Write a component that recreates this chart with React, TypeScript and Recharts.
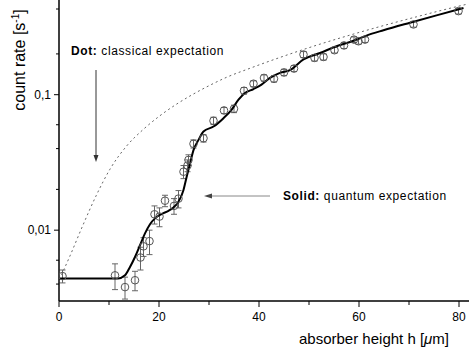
import React from 'react';
import { ComposedChart, Line, Scatter, ErrorBar, XAxis, YAxis } from 'recharts';

// measured points (absorber height in um, count rate in 1/s, error)
const pointX = [0.7, 11.2, 13.2, 15.2, 16.3, 16.9, 18.1, 19.1, 20.1, 21.2, 23.0, 23.9, 24.9, 25.7, 25.9, 26.9, 28.9, 30.9, 33.0, 35.0, 37.0, 38.9, 41.0, 43.0, 45.0, 47.0, 48.9, 51.1, 52.9, 55.1, 57.0, 59.0, 59.9, 61.2, 70.9, 79.9];
const pointY = [0.00458, 0.00464, 0.0038, 0.00427, 0.00628, 0.0076, 0.0083, 0.0131, 0.0126, 0.0165, 0.0151, 0.0171, 0.027, 0.03, 0.033, 0.0434, 0.0477, 0.0642, 0.0765, 0.0787, 0.107, 0.1205, 0.133, 0.131, 0.146, 0.156, 0.198, 0.187, 0.19, 0.213, 0.231, 0.255, 0.248, 0.255, 0.33, 0.414];
const pointErr = [0.0005, 0.001, 0.0007, 0.0007, 0.0012, 0.0012, 0.0017, 0.002, 0.002, 0.0016, 0.002, 0.0025, 0.003, 0.003, 0.003, 0.003, 0.003, 0.004, 0.004, 0.005, 0.006, 0.006, 0.007, 0.007, 0.008, 0.008, 0.01, 0.01, 0.01, 0.01, 0.012, 0.012, 0.012, 0.012, 0.015, 0.02];

// solid: quantum expectation
const quantumX = [0, 11.8, 13.2, 14.2, 15.2, 16.2, 17.2, 18.2, 19.2, 20.5, 21.9, 22.9, 23.9, 24.9, 25.5, 26.2, 26.9, 27.9, 28.9, 30.9, 32.9, 34.5, 35.9, 37.2, 38.9, 40.5, 42.2, 44.2, 46.2, 48.9, 52.2, 55.5, 58.9, 61.5, 64.9, 70.2, 75.5, 80.9];
const quantumY = [0.0044, 0.0044, 0.00464, 0.00535, 0.00634, 0.00774, 0.00946, 0.01106, 0.01222, 0.01315, 0.0139, 0.01472, 0.0162, 0.0198, 0.0245, 0.031, 0.039, 0.0464, 0.0535, 0.0582, 0.0671, 0.0774, 0.0918, 0.1028, 0.11, 0.1186, 0.133, 0.145, 0.152, 0.182, 0.203, 0.228, 0.25, 0.273, 0.299, 0.34, 0.385, 0.436];

// dotted: classical expectation
const classicalX = [0.5, 2.2, 4.7, 7.5, 10.2, 13.5, 16.9, 20.2, 23.5, 26.9, 30.2, 33.5, 38.2, 44.9, 51.5, 58.2, 64.9, 71.5, 78.2, 81.5];
const classicalY = [0.00468, 0.00646, 0.0107, 0.0182, 0.0282, 0.0417, 0.0556, 0.07, 0.0851, 0.1012, 0.1175, 0.1343, 0.1567, 0.1923, 0.2317, 0.2754, 0.3236, 0.3758, 0.4345, 0.4645];

const xTicks = [0, 10, 20, 30, 40, 50, 60, 70, 80];
const xLabels = [0, 20, 40, 60, 80];
const yTicks = [0.003, 0.004, 0.005, 0.006, 0.007, 0.008, 0.009, 0.01, 0.02, 0.03, 0.04, 0.05, 0.06, 0.07, 0.08, 0.09, 0.1, 0.2, 0.3, 0.4, 0.5];
const yLabels: Record<string, string> = { '0.01': '0,01', '0.1': '0,1' };

const points = pointX.map((x, i) => ({ x, y: pointY[i], err: pointErr[i] }));
const quantum = quantumX.map((x, i) => ({ x, y: quantumY[i] }));
const classical = classicalX.map((x, i) => ({ x, y: classicalY[i] }));

const font = 'Liberation Sans, Arial, sans-serif';

const XTick = (props: any) => {
  const { x, y, payload } = props;
  const major = xLabels.includes(payload.value);
  return (
    <g>
      <line x1={x} x2={x} y1={y} y2={y + (major ? 6 : 4)} stroke="#000" strokeWidth={1} />
      {major && (
        <text x={x} y={y + 20} textAnchor="middle" fontSize={12} fontFamily={font} fill="#000">
          {payload.value}
        </text>
      )}
    </g>
  );
};

const YTick = (props: any) => {
  const { x, y, payload } = props;
  const label = yLabels[String(payload.value)];
  return (
    <g>
      <line x1={x - (label ? 5 : 3)} x2={x} y1={y} y2={y} stroke="#000" strokeWidth={1} />
      {label && (
        <text x={x - 8} y={y + 4} textAnchor="end" fontSize={12} fontFamily={font} fill="#000">
          {label}
        </text>
      )}
    </g>
  );
};

const Ring = (props: any) => (
  <circle cx={props.cx} cy={props.cy} r={3.8} fill="none" stroke="#555" strokeWidth={1} />
);

export default function App() {
  return (
    <div style={{ position: 'absolute', left: 0, top: 0, width: 473, height: 353, background: '#fff' }}>
      <ComposedChart width={473} height={353} margin={{ top: 0, right: 4, bottom: 0, left: 0 }}>
        <XAxis
          type="number"
          dataKey="x"
          domain={[0, 82]}
          ticks={xTicks}
          allowDataOverflow
          height={52}
          tickSize={0}
          tickMargin={0}
          tickLine={false}
          tick={<XTick />}
          axisLine={{ stroke: '#000', strokeWidth: 1.5 }}
        />
        <YAxis
          type="number"
          dataKey="y"
          scale="log"
          domain={[0.003, 0.5]}
          ticks={yTicks}
          allowDataOverflow
          width={59}
          tickSize={0}
          tickMargin={0}
          tickLine={false}
          tick={<YTick />}
          axisLine={{ stroke: '#000', strokeWidth: 1.5 }}
        />
        <Scatter data={points} dataKey="y" shape={<Ring />} isAnimationActive={false}>
          <ErrorBar dataKey="err" direction="y" width={3} stroke="#666" strokeWidth={1} />
        </Scatter>
        <Line
          data={classical}
          dataKey="y"
          type="monotone"
          stroke="#666"
          strokeWidth={1}
          strokeDasharray="2 3"
          dot={false}
          isAnimationActive={false}
        />
        <Line
          data={quantum}
          dataKey="y"
          type="monotone"
          stroke="#000"
          strokeWidth={2}
          dot={false}
          isAnimationActive={false}
        />
      </ComposedChart>
      <svg
        width={473}
        height={353}
        style={{ position: 'absolute', left: 0, top: 0, pointerEvents: 'none' }}
        fontFamily={font}
      >
        <text x={25} y={60} transform="rotate(-90 25 60)" textAnchor="middle" fontSize={16} fill="#000">
          count rate [s
          <tspan dy={-6} fontSize={10}>-1</tspan>
          <tspan dy={6}>]</tspan>
        </text>
        <text x={299} y={344} fontSize={15} fill="#000">
          absorber height h [<tspan fontStyle="italic">μ</tspan>m]
        </text>
        <text x={71} y={55} fontSize={12} letterSpacing={0.6} fill="#000">
          <tspan fontWeight="bold">Dot:</tspan> classical expectation
        </text>
        <text x={283} y={200} fontSize={12} letterSpacing={0.6} fill="#000">
          <tspan fontWeight="bold">Solid:</tspan> quantum expectation
        </text>
        <line x1={96} y1={70} x2={96} y2={156} stroke="#333" strokeWidth={1} />
        <polygon points="93.5,155 98.5,155 96,162" fill="#333" />
        <line x1={270} y1={196} x2={211} y2={196} stroke="#888" strokeWidth={1} />
        <polygon points="204,196 212,193.5 212,198.5" fill="#444" />
      </svg>
    </div>
  );
}
